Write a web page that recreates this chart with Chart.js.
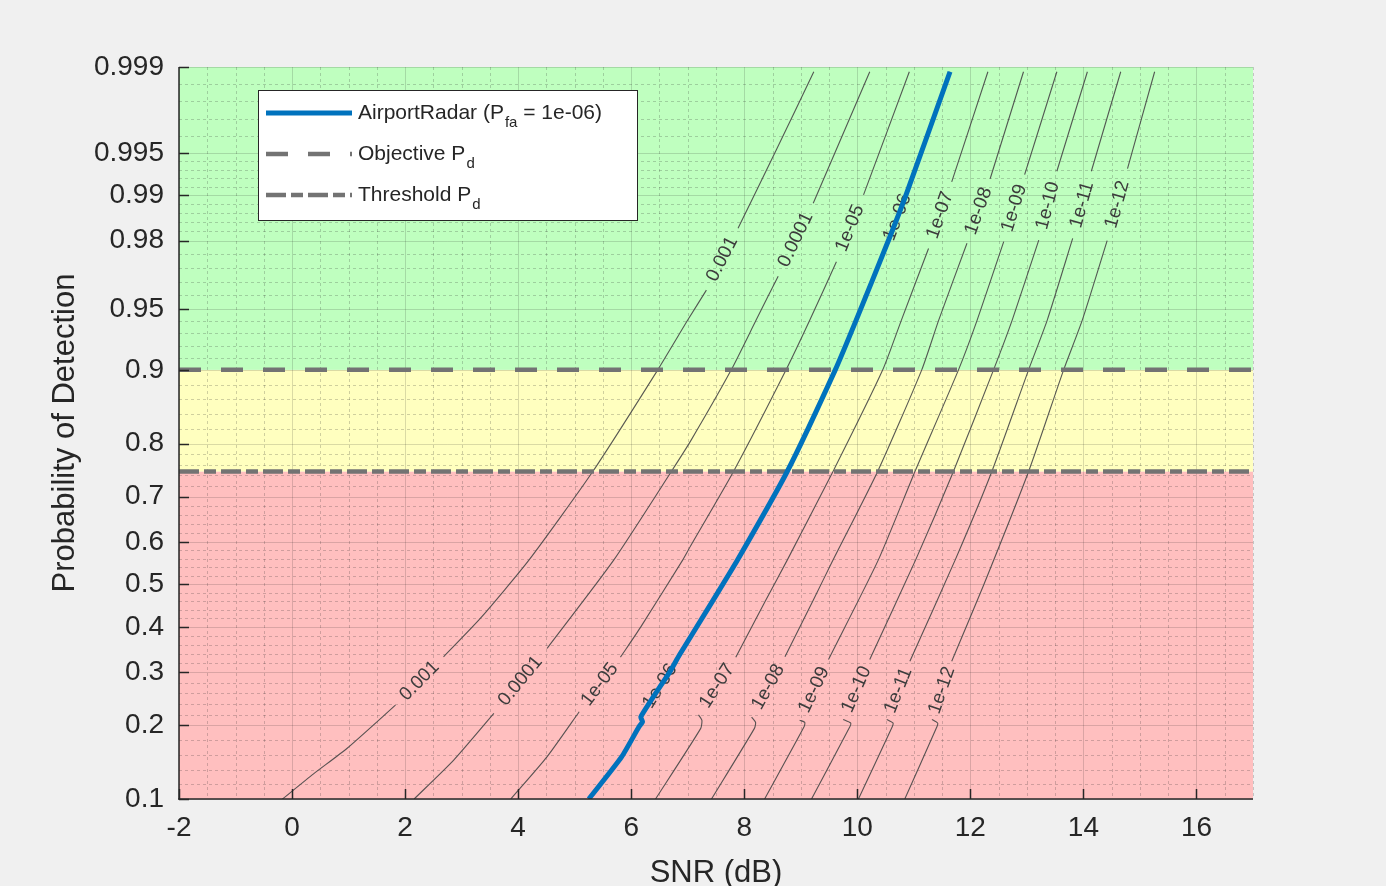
<!DOCTYPE html>
<html>
<head>
<meta charset="utf-8">
<script src="https://cdn.jsdelivr.net/npm/chart.js@4.4.1/dist/chart.umd.min.js"></script>
<style>
html,body{margin:0;padding:0;background:#f0f0f0;}
canvas{display:block;}
</style>
</head>
<body>
<canvas id="c" width="1386" height="886"></canvas>
<script>
// ---------------- DATA ----------------
const xTicks = [-2, 0, 2, 4, 6, 8, 10, 12, 14, 16];
const yTicks = [0.1, 0.2, 0.3, 0.4, 0.5, 0.6, 0.7, 0.8, 0.9, 0.95, 0.98, 0.99, 0.995, 0.999];
const yTickLabels = ['0.1','0.2','0.3','0.4','0.5','0.6','0.7','0.8','0.9','0.95','0.98','0.99','0.995','0.999'];
const bandLow  = [0.1, 0.75, 0.9];
const bandHigh = [0.75, 0.9, 0.999];
const objectivePd = 0.9;
const thresholdPd = 0.75;
const pfaLabels = ['0.001','0.0001','1e-05','1e-06','1e-07','1e-08','1e-09','1e-10','1e-11','1e-12'];

// [SNR dB, Pd]; null = break in the contour where its label sits
const curve_1e3 = [[-0.17,0.1],[0.38,0.129],[0.97,0.1636],[1.83,0.2355],null,[2.68,0.3327],[3.33,0.4195],[4.19,0.5577],[5.32,0.75],[6.47,0.9],[7.0,0.9428],[7.33,0.9606],null,[7.89,0.9833],[8.57,0.9953],[9.23,0.9989]];
const curve_1e4 = [[2.16,0.1],[2.86,0.147],[3.57,0.2205],null,[4.51,0.351],[5.69,0.5577],[6.71,0.75],[7.06,0.8056],[7.77,0.9],[8.21,0.9428],[8.60,0.9672],null,[9.22,0.9886],[10.22,0.9989]];
const curve_1e5 = [[3.87,0.1],[4.51,0.1515],[5.08,0.2234],null,[5.81,0.332],[6.17,0.4],[6.91,0.5577],[7.06,0.593],[7.81,0.75],[8.74,0.9],[9.16,0.9428],[9.63,0.973],null,[10.11,0.99],[10.92,0.9989]];
const curve_1e6 = [[5.25,0.1],[5.83,0.1515],[6.14,0.198],[6.20,0.206],[6.17,0.2145],null,[6.85,0.336],[7.45,0.4626],[7.88,0.5577],[8.76,0.75],[9.61,0.9],[9.98,0.9428],[10.55,0.98],null,[10.87,0.9902],[11.64,0.9989]];
const curve_1e7 = [[6.43,0.1],[7.23,0.195],[7.25,0.2088],[7.19,0.218],null,[7.85,0.332],[8.38,0.4626],[8.76,0.5577],[9.57,0.75],[10.45,0.9],[10.78,0.9428],[11.26,0.9776],null,[11.67,0.9919],[12.31,0.9989]];
const curve_1e8 = [[7.42,0.1],[8.18,0.195],[8.20,0.205],[8.13,0.214],null,[8.72,0.3327],[9.22,0.4626],[9.57,0.5577],[10.36,0.75],[11.14,0.9],[11.44,0.9428],[11.94,0.9792],null,[12.35,0.9923],[12.94,0.9989]];
const curve_1e9 = [[8.36,0.1],[9.06,0.198],[9.07,0.205],[8.98,0.2088],null,[9.49,0.327],[10.37,0.5577],[11.02,0.75],[11.79,0.9],[12.12,0.9428],[12.59,0.9797],null,[12.96,0.9928],[13.53,0.9989]];
const curve_1e10 = [[9.19,0.1],[9.87,0.198],[9.88,0.204],[9.75,0.21],null,[10.22,0.327],[11.03,0.5577],[11.70,0.75],[12.41,0.9],[12.74,0.9428],[13.21,0.9801],null,[13.53,0.9932],[14.07,0.9989]];
const curve_1e11 = [[10.02,0.1],[10.62,0.198],[10.63,0.204],[10.52,0.21],null,[10.93,0.323],[11.73,0.5577],[12.38,0.75],[13.03,0.9],[13.36,0.9428],[13.81,0.9806],null,[14.14,0.9932],[14.66,0.9989]];
const curve_1e12 = [[10.84,0.1],[11.41,0.198],[11.42,0.204],[11.32,0.21],null,[11.67,0.323],[12.23,0.497],[13.03,0.75],[13.65,0.9],[13.98,0.9428],[14.42,0.98],null,[14.78,0.9935],[15.26,0.9989]];
const contourCurves = [curve_1e3, curve_1e4, curve_1e5, curve_1e6, curve_1e7, curve_1e8, curve_1e9, curve_1e10, curve_1e11, curve_1e12];

// AirportRadar (Pfa = 1e-06)
const radarCurve = [[5.25,0.1],[5.83,0.1515],[6.14,0.198],[6.20,0.206],[6.17,0.2145],[6.70,0.304],[6.85,0.336],[7.45,0.4626],[7.88,0.5577],[8.76,0.75],[9.61,0.9],[9.98,0.9428],[10.55,0.98],[10.87,0.9902],[11.64,0.9989]];

const legendMain = ['AirportRadar (P', 'Objective P', 'Threshold P'];
const legendSub  = ['fa', 'd', 'd'];
const legendTail = [' = 1e-06)', '', ''];

// ---------------- STYLE ----------------
const FONT = "'Liberation Sans', Arial, Helvetica, sans-serif";
const TXT = '#262626';
const bandColors = ['#ffbfbf', '#ffffbf', '#bfffbf'];
const BLUE = '#0072bd';
const DASHGRAY = '#737373';

// normal-probability (probit) transform for the y scale
function probit(p){
  const a=[-3.969683028665376e+01,2.209460984245205e+02,-2.759285104469687e+02,1.383577518672690e+02,-3.066479806614716e+01,2.506628277459239e+00];
  const b=[-5.447609879822406e+01,1.615858368580409e+02,-1.556989798598866e+02,6.680131188771972e+01,-1.328068155288572e+01];
  const c=[-7.784894002430293e-03,-3.223964580411365e-01,-2.400758277161838e+00,-2.549732539343734e+00,4.374664141464968e+00,2.938163982698783e+00];
  const d=[7.784695709041462e-03,3.224671290700398e-01,2.445134137142996e+00,3.754408661907416e+00];
  const pl=0.02425, ph=1-pl; let q,r;
  if(p<pl){q=Math.sqrt(-2*Math.log(p));return (((((c[0]*q+c[1])*q+c[2])*q+c[3])*q+c[4])*q+c[5])/((((d[0]*q+d[1])*q+d[2])*q+d[3])*q+1);}
  if(p<=ph){q=p-0.5;r=q*q;return (((((a[0]*r+a[1])*r+a[2])*r+a[3])*r+a[4])*r+a[5])*q/(((((b[0]*r+b[1])*r+b[2])*r+b[3])*r+b[4])*r+1);}
  q=Math.sqrt(-2*Math.log(1-p));return -(((((c[0]*q+c[1])*q+c[2])*q+c[3])*q+c[4])*q+c[5])/((((d[0]*q+d[1])*q+d[2])*q+d[3])*q+1);
}
const toPts = arr => arr.map(pt => pt ? {x: pt[0], y: probit(pt[1])} : {x: null, y: null});

Chart.defaults.font.family = FONT;

const datasets = [
  { label:'AirportRadar', data: toPts(radarCurve), borderColor: BLUE, borderWidth: 5, pointRadius: 0, tension: 0.2, borderCapStyle:'butt', borderJoinStyle:'round', kind:'radar' },
  { label:'Objective', data: [{x:-2, y:probit(objectivePd)}, {x:17, y:probit(objectivePd)}], borderColor: DASHGRAY, borderWidth: 4.5, borderDash:[22,20], pointRadius:0, kind:'obj' },
  { label:'Threshold', data: [{x:-2, y:probit(thresholdPd)}, {x:17, y:probit(thresholdPd)}], borderColor: DASHGRAY, borderWidth: 4.5, borderDash:[20,5,12,5], pointRadius:0, kind:'thr' }
];
contourCurves.forEach((cv, i) => datasets.push({
  label: pfaLabels[i], data: toPts(cv), raw: cv, borderColor: 'rgba(70,70,70,0.9)', borderWidth: 1.1,
  pointRadius: 0, spanGaps: false, tension: 0.2, kind: 'contour'
}));

function hline(ctx, x0, y0, x1, y1){ ctx.beginPath(); ctx.moveTo(x0,y0); ctx.lineTo(x1,y1); ctx.stroke(); }

const backPlugin = {
  id: 'back',
  beforeDatasetsDraw(chart){
    const {ctx, chartArea:a, scales:{x, y}} = chart;
    ctx.save();
    bandLow.forEach((lo, i) => {
      const yt = y.getPixelForValue(probit(bandHigh[i])), yb = y.getPixelForValue(probit(lo));
      ctx.fillStyle = bandColors[i];
      ctx.fillRect(a.left, yt, a.right - a.left, yb - yt);
    });
    // minor grid
    ctx.lineWidth = 1; ctx.strokeStyle = 'rgba(38,38,38,0.22)'; ctx.setLineDash([3,3]);
    for (let v = -2; v <= 17.001; v += 0.5) {
      if (Math.abs(v/2 - Math.round(v/2)) < 1e-6) continue;
      const px = Math.round(x.getPixelForValue(v)) + 0.5;
      hline(ctx, px, a.top, px, a.bottom);
    }
    for (let i = 0; i < yTicks.length - 1; i++) {
      const z0 = probit(yTicks[i]), z1 = probit(yTicks[i+1]);
      for (let k = 1; k < 5; k++) {
        const py = Math.round(y.getPixelForValue(z0 + (z1 - z0) * k / 5)) + 0.5;
        hline(ctx, a.left, py, a.right, py);
      }
    }
    // major grid
    ctx.setLineDash([]); ctx.strokeStyle = 'rgba(38,38,38,0.17)';
    xTicks.forEach(v => { const px = Math.round(x.getPixelForValue(v)) + 0.5; hline(ctx, px, a.top, px, a.bottom); });
    yTicks.forEach(p => { const py = Math.round(y.getPixelForValue(probit(p))) + 0.5; hline(ctx, a.left, py, a.right, py); });
    ctx.restore();
  },
  beforeDatasetDraw(chart, args){
    if (chart.data.datasets[args.index].kind !== 'radar') return;
    // contour labels, drawn in the breaks of each contour
    const {ctx, scales:{x, y}} = chart;
    ctx.save();
    ctx.font = '19px ' + FONT; ctx.fillStyle = '#3c3c3c'; ctx.textAlign = 'center'; ctx.textBaseline = 'middle';
    chart.data.datasets.forEach(ds => {
      if (ds.kind !== 'contour') return;
      const r = ds.raw;
      for (let i = 1; i < r.length - 1; i++) {
        if (r[i] !== null) continue;
        const p0 = r[i-1], p1 = r[i+1];
        const x0 = x.getPixelForValue(p0[0]), y0 = y.getPixelForValue(probit(p0[1]));
        const x1 = x.getPixelForValue(p1[0]), y1 = y.getPixelForValue(probit(p1[1]));
        ctx.save();
        ctx.translate((x0 + x1) / 2, (y0 + y1) / 2);
        ctx.rotate(Math.atan2(y1 - y0, x1 - x0));
        ctx.fillText(ds.label, 0, 0);
        ctx.restore();
      }
    });
    ctx.restore();
  },
  afterDatasetsDraw(chart){
    const {ctx, chartArea:a, scales:{x, y}} = chart;
    ctx.save();
    ctx.strokeStyle = TXT; ctx.lineWidth = 1.5;
    hline(ctx, a.left, a.top, a.left, a.bottom + 0.75);
    hline(ctx, a.left - 0.75, a.bottom, a.right, a.bottom);
    ctx.lineWidth = 1.5;
    xTicks.forEach(v => { const px = Math.round(x.getPixelForValue(v)) + 0.5; hline(ctx, px, a.bottom, px, a.bottom - 10); });
    yTicks.forEach(p => { const py = Math.round(y.getPixelForValue(probit(p))) + 0.5; hline(ctx, a.left, py, a.left + 10, py); });
    ctx.restore();
  },
  afterDraw(chart){
    const {ctx, chartArea:a} = chart;
    const lx = a.left + 79, ly = a.top + 23, lw = 379, lh = 130;
    ctx.save();
    ctx.fillStyle = '#ffffff'; ctx.fillRect(lx, ly, lw, lh);
    ctx.strokeStyle = TXT; ctx.lineWidth = 1; ctx.strokeRect(lx + 0.5, ly + 0.5, lw, lh);
    const dsets = chart.data.datasets.slice(0, 3);
    dsets.forEach((ds, i) => {
      const cy = ly + 23 + i * 41;
      ctx.strokeStyle = ds.borderColor; ctx.lineWidth = ds.borderWidth; ctx.setLineDash(ds.borderDash || []);
      hline(ctx, lx + 8, cy, lx + 94, cy);
      ctx.setLineDash([]);
      ctx.fillStyle = TXT; ctx.textBaseline = 'middle'; ctx.textAlign = 'left';
      let tx = lx + 100;
      ctx.font = '21px ' + FONT; ctx.fillText(legendMain[i], tx, cy); tx += ctx.measureText(legendMain[i]).width + 1;
      ctx.font = '15px ' + FONT; ctx.fillText(legendSub[i], tx, cy + 10); tx += ctx.measureText(legendSub[i]).width;
      ctx.font = '21px ' + FONT; ctx.fillText(legendTail[i], tx, cy);
    });
    ctx.restore();
  }
};

new Chart(document.getElementById('c'), {
  type: 'line',
  data: { datasets },
  plugins: [backPlugin],
  options: {
    responsive: false, animation: false, events: [],
    layout: { padding: { left: 0, top: 67, right: 133, bottom: 0 } },
    plugins: { legend: { display: false }, tooltip: { enabled: false } },
    scales: {
      x: {
        type: 'linear', min: -2, max: 17,
        afterBuildTicks: s => { s.ticks = xTicks.map(v => ({ value: v })); },
        afterFit: s => { s.height = 87; },
        grid: { display: false, drawTicks: false }, border: { display: false },
        ticks: { padding: 12, color: TXT, font: { size: 28 }, autoSkip: false, maxRotation: 0, callback: v => String(v) },
        title: { display: true, text: 'SNR (dB)', color: TXT, font: { size: 31 }, padding: { top: 0, bottom: -6 } }
      },
      y: {
        type: 'linear', min: probit(0.1), max: probit(0.999),
        afterBuildTicks: s => { s.ticks = yTicks.map(p => ({ value: probit(p) })); },
        afterFit: s => { s.width = 179; },
        grid: { display: false, drawTicks: false }, border: { display: false },
        ticks: { padding: 15, color: TXT, font: { size: 28 }, autoSkip: false, callback: (v, i) => yTickLabels[i] },
        title: { display: true, text: 'Probability of Detection', color: TXT, font: { size: 31 }, padding: { top: 47, bottom: 0 } }
      }
    }
  }
});
</script>
</body>
</html>
